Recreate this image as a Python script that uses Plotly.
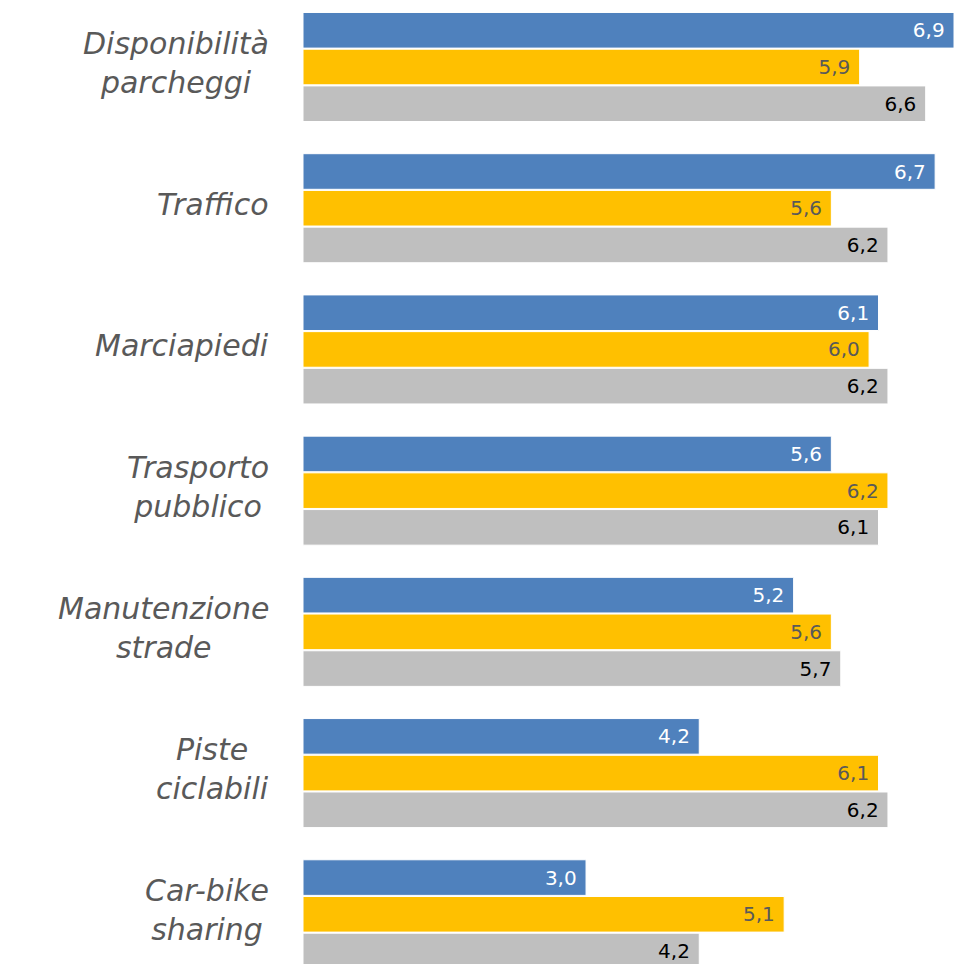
import plotly.graph_objects as go

categories = [
    "Disponibilità<br>parcheggi",
    "Traffico",
    "Marciapiedi",
    "Trasporto<br>pubblico",
    "Manutenzione<br>strade",
    "Piste<br>ciclabili",
    "Car-bike<br>sharing",
]
serie_blu = [6.9, 6.7, 6.1, 5.6, 5.2, 4.2, 3.0]
serie_gialla = [5.9, 5.6, 6.0, 6.2, 5.6, 6.1, 5.1]
serie_grigia = [6.6, 6.2, 6.2, 6.1, 5.7, 6.2, 4.2]

series = [
    (serie_blu, "#4F81BD", "#FFFFFF"),
    (serie_gialla, "#FFC000", "#595959"),
    (serie_grigia, "#BFBFBF", "#000000"),
]

idx = list(range(len(categories)))

fig = go.Figure()
for values, colour, text_colour in series:
    fig.add_trace(go.Bar(
        x=values,
        y=idx,
        orientation="h",
        marker=dict(color=colour, line=dict(color="#FFFFFF", width=1)),
        texttemplate="%{x:.1f}\u00a0",
        textposition="inside",
        insidetextanchor="end",
        textangle=0,
        textfont=dict(family="DejaVu Sans", size=20, color=text_colour),
        hoverinfo="skip",
    ))

# Category labels, centred line by line and anchored left of the bars
for i, cat in enumerate(categories):
    fig.add_annotation(
        x=0, xref="paper", xanchor="right", xshift=-32,
        y=i, yref="y", yanchor="middle", yshift=4,
        text=cat, showarrow=False, align="center",
        font=dict(family="DejaVu Sans", size=30, color="#595959", style="italic"),
    )

fig.update_layout(
    width=954, height=964,
    margin=dict(l=303, r=0, t=0, b=0),
    paper_bgcolor="white", plot_bgcolor="white",
    barmode="group", bargap=0.22, bargroupgap=0.03,
    separators=",.",
    showlegend=False,
    uniformtext=dict(minsize=20, mode="show"),
    xaxis=dict(range=[0, 6.9], visible=False, fixedrange=True),
    yaxis=dict(range=[6.352, -0.4745], visible=False, fixedrange=True),
)

fig.write_html("out.html")
